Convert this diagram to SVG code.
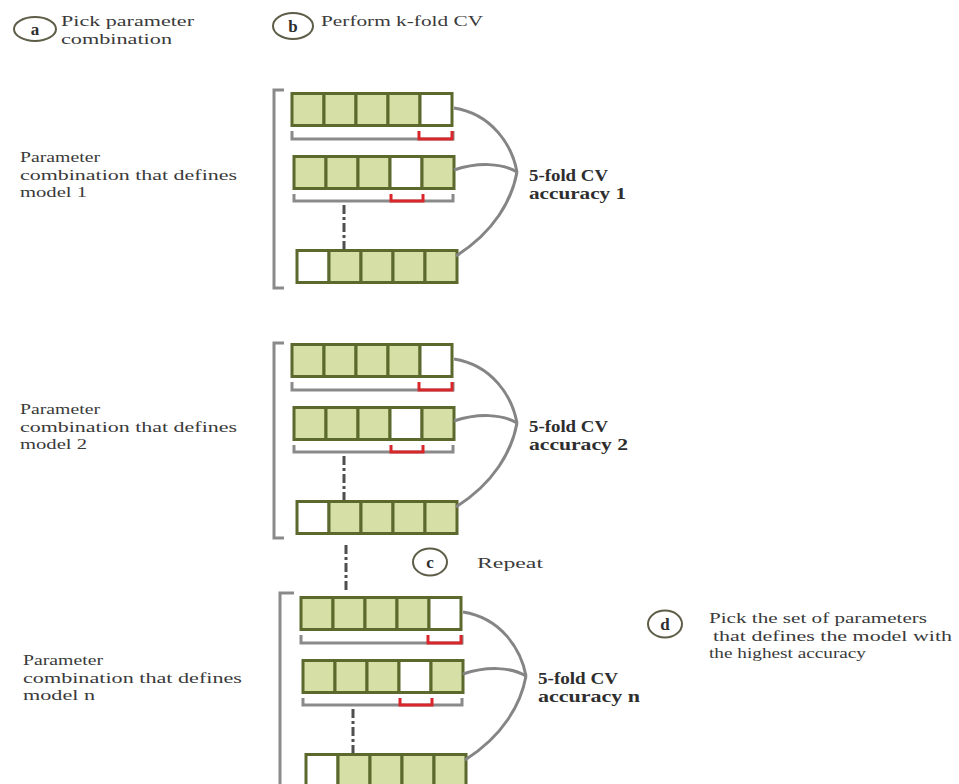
<svg xmlns="http://www.w3.org/2000/svg" xmlns:xlink="http://www.w3.org/1999/xlink" width="959" height="784" viewBox="0 0 959 784">
<style>
.t{font-family:"Liberation Serif","Times New Roman",serif;font-size:15.5px;fill:#3a3a3a}
.b{font-family:"Liberation Serif","Times New Roman",serif;font-size:16px;font-weight:bold;fill:#2e2e2e}
.cl{font-family:"Liberation Serif","Times New Roman",serif;font-size:17px;font-weight:bold;fill:#2e2e2e;text-anchor:middle}
.circ{fill:#fff;stroke:#5d5d48;stroke-width:2}
.g{fill:#d5dfa6;stroke:#5b692c;stroke-width:3}
.w{fill:#fff;stroke:#5b692c;stroke-width:3}
.br{fill:none;stroke:#8a8a8a;stroke-width:3}
.red{fill:none;stroke:#d9262a;stroke-width:3}
.cv{fill:none;stroke:#858585;stroke-width:3}
.dd{fill:none;stroke:#4f4f4f;stroke-width:3;stroke-dasharray:9 3 3 3}
</style>
<defs>
<g id="row4"><rect class="g" x="0" y="0" width="32" height="32"/><rect class="g" x="32" y="0" width="32" height="32"/><rect class="g" x="64" y="0" width="32" height="32"/><rect class="g" x="96" y="0" width="32" height="32"/><rect class="w" x="128" y="0" width="32" height="32"/></g>
<g id="row3"><rect class="g" x="0" y="0" width="32" height="32"/><rect class="g" x="32" y="0" width="32" height="32"/><rect class="g" x="64" y="0" width="32" height="32"/><rect class="w" x="96" y="0" width="32" height="32"/><rect class="g" x="128" y="0" width="32" height="32"/></g>
<g id="row0"><rect class="w" x="0" y="0" width="32" height="32"/><rect class="g" x="32" y="0" width="32" height="32"/><rect class="g" x="64" y="0" width="32" height="32"/><rect class="g" x="96" y="0" width="32" height="32"/><rect class="g" x="128" y="0" width="32" height="32"/></g>
<g id="u1"><path class="br" d="M0 0 V8 H161 V0"/><path class="red" d="M127 0 V8 H160 V0"/></g>
<g id="u2"><path class="br" d="M0 0 V7 H159 V0"/><path class="red" d="M97 0 V7 H129 V0"/></g>
</defs>

<g id="label-a">
<ellipse class="circ" cx="35" cy="29" rx="21" ry="12"/>
<text class="cl" x="35" y="35">a</text>
<text class="t" x="61" y="26" textLength="133" lengthAdjust="spacingAndGlyphs">Pick parameter</text>
<text class="t" x="61" y="44" textLength="111" lengthAdjust="spacingAndGlyphs">combination</text>
</g>
<g id="label-b">
<ellipse class="circ" cx="293" cy="26" rx="20" ry="13"/>
<text class="cl" x="293" y="32">b</text>
<text class="t" x="321" y="26" textLength="162" lengthAdjust="spacingAndGlyphs">Perform k-fold CV</text>
</g>

<g id="text-model1">
<text class="t" x="20" y="162" textLength="80" lengthAdjust="spacingAndGlyphs">Parameter</text>
<text class="t" x="20" y="179.5" textLength="217" lengthAdjust="spacingAndGlyphs">combination that defines</text>
<text class="t" x="20" y="197" textLength="67" lengthAdjust="spacingAndGlyphs">model 1</text>
</g>
<g id="text-model2">
<text class="t" x="20" y="414" textLength="80" lengthAdjust="spacingAndGlyphs">Parameter</text>
<text class="t" x="20" y="431.5" textLength="217" lengthAdjust="spacingAndGlyphs">combination that defines</text>
<text class="t" x="20" y="449" textLength="67" lengthAdjust="spacingAndGlyphs">model 2</text>
</g>
<g id="text-modeln">
<text class="t" x="23" y="665" textLength="80" lengthAdjust="spacingAndGlyphs">Parameter</text>
<text class="t" x="23" y="682.5" textLength="219" lengthAdjust="spacingAndGlyphs">combination that defines</text>
<text class="t" x="23" y="700" textLength="72" lengthAdjust="spacingAndGlyphs">model n</text>
</g>

<g id="block1">
<path class="br" d="M284 90 H274 V288 H284"/>
<use xlink:href="#row4" x="292" y="93.5"/>
<use xlink:href="#u1" x="292" y="131"/>
<use xlink:href="#row3" x="294" y="156.5"/>
<use xlink:href="#u2" x="294" y="194"/>
<path class="dd" d="M344 205 V250"/>
<use xlink:href="#row0" x="297" y="250.5"/>
</g>
<g id="block2" transform="translate(0,251)">
<path class="br" d="M284 92 H274 V287 H284"/>
<use xlink:href="#row4" x="292" y="93.5"/>
<use xlink:href="#u1" x="292" y="131"/>
<use xlink:href="#row3" x="294" y="156.5"/>
<use xlink:href="#u2" x="294" y="194"/>
<path class="dd" d="M344 205 V250"/>
<use xlink:href="#row0" x="297" y="250.5"/>
</g>
<g id="block3" transform="translate(9,504)">
<path class="br" d="M285 89 H271 V290"/>
<use xlink:href="#row4" x="292" y="93.5"/>
<use xlink:href="#u1" x="292" y="131"/>
<use xlink:href="#row3" x="294" y="156.5"/>
<use xlink:href="#u2" x="294" y="194"/>
<path class="dd" d="M344 205 V250"/>
<use xlink:href="#row0" x="297" y="250.5"/>
</g>

<g id="connectors">
<path class="cv" d="M454 108 C492 114, 512 145, 517 172"/>
<path class="cv" d="M454 170 C478 162, 502 163, 517 172"/>
<path class="cv" d="M456 256 C494 232, 512 200, 517 172"/>
<path class="cv" d="M454 359 C492 365, 512 396, 517 423"/>
<path class="cv" d="M454 421 C478 413, 502 414, 517 423"/>
<path class="cv" d="M456 507 C494 483, 512 451, 517 423"/>
<path class="cv" d="M463 612 C501 618, 521 649, 526 676"/>
<path class="cv" d="M463 674 C487 666, 511 667, 526 676"/>
<path class="cv" d="M465 760 C503 736, 521 704, 526 676"/>
<path class="dd" d="M346 545 V592"/>
</g>

<g id="acc1">
<text class="b" x="529" y="181" textLength="79" lengthAdjust="spacingAndGlyphs">5-fold CV</text>
<text class="b" x="529" y="199" textLength="97" lengthAdjust="spacingAndGlyphs">accuracy 1</text>
</g>
<g id="acc2">
<text class="b" x="529" y="432" textLength="79" lengthAdjust="spacingAndGlyphs">5-fold CV</text>
<text class="b" x="529" y="450" textLength="99" lengthAdjust="spacingAndGlyphs">accuracy 2</text>
</g>
<g id="accn">
<text class="b" x="538" y="684" textLength="80" lengthAdjust="spacingAndGlyphs">5-fold CV</text>
<text class="b" x="538" y="702" textLength="102" lengthAdjust="spacingAndGlyphs">accuracy n</text>
</g>

<g id="label-c">
<ellipse class="circ" cx="430" cy="562" rx="17" ry="13.5"/>
<text class="cl" x="430" y="568">c</text>
<text class="t" x="477" y="568" textLength="66" lengthAdjust="spacingAndGlyphs">Repeat</text>
</g>
<g id="label-d">
<ellipse class="circ" cx="665" cy="624" rx="17" ry="13.5"/>
<text class="cl" x="665" y="630">d</text>
<text class="t" x="709" y="623" textLength="218" lengthAdjust="spacingAndGlyphs">Pick the set of parameters</text>
<text class="t" x="713" y="640.5" textLength="239" lengthAdjust="spacingAndGlyphs">that defines the model with</text>
<text class="t" x="709" y="658" textLength="157" lengthAdjust="spacingAndGlyphs">the highest accuracy</text>
</g>
</svg>
